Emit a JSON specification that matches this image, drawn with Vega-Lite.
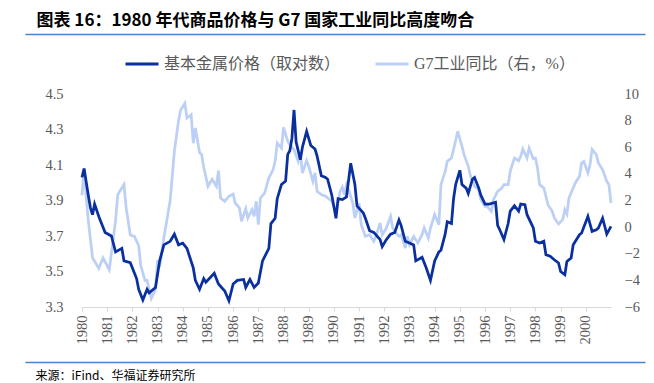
{
  "$schema": "https://vega.github.io/schema/vega-lite/v6.json",
  "width": 529,
  "height": 213,
  "autosize": {"type": "none"},
  "padding": {"left": 82, "top": 94, "right": 43, "bottom": 76},
  "background": "white",
  "config": {
    "view": {"stroke": null},
    "axis": {"grid": false},
    "legend": {
      "title": null, "orient": "none", "legendX": 42, "legendY": -48, "direction": "horizontal",
      "symbolType": "stroke", "symbolSize": 1089, "symbolStrokeWidth": 3, "columnPadding": 28, "labelOffset": 4,
      "labelFont": "Liberation Serif, Noto Sans CJK SC", "labelFontSize": 16, "labelColor": "#595959", "labelLimit": 0, "padding": 0
    }
  },
  "datasets": {
    "metals": [
      {"year": 1980, "value": 4.03}, {"year": 1980.083, "value": 4.08}, {"year": 1980.25, "value": 3.93}, {"year": 1980.333, "value": 3.86},
      {"year": 1980.417, "value": 3.82}, {"year": 1980.5, "value": 3.88}, {"year": 1980.667, "value": 3.81}, {"year": 1980.917, "value": 3.72},
      {"year": 1981.167, "value": 3.70}, {"year": 1981.333, "value": 3.61}, {"year": 1981.583, "value": 3.63}, {"year": 1981.667, "value": 3.56},
      {"year": 1981.917, "value": 3.55}, {"year": 1982.167, "value": 3.46}, {"year": 1982.25, "value": 3.40}, {"year": 1982.417, "value": 3.34},
      {"year": 1982.583, "value": 3.40}, {"year": 1982.667, "value": 3.38}, {"year": 1982.917, "value": 3.41}, {"year": 1983.083, "value": 3.56},
      {"year": 1983.25, "value": 3.65}, {"year": 1983.5, "value": 3.67}, {"year": 1983.667, "value": 3.71}, {"year": 1983.833, "value": 3.65},
      {"year": 1984, "value": 3.66}, {"year": 1984.167, "value": 3.63}, {"year": 1984.417, "value": 3.52}, {"year": 1984.5, "value": 3.45},
      {"year": 1984.667, "value": 3.40}, {"year": 1984.833, "value": 3.46}, {"year": 1984.917, "value": 3.44}, {"year": 1985.25, "value": 3.49},
      {"year": 1985.417, "value": 3.43}, {"year": 1985.667, "value": 3.39}, {"year": 1985.833, "value": 3.335}, {"year": 1986, "value": 3.43},
      {"year": 1986.167, "value": 3.45}, {"year": 1986.417, "value": 3.455}, {"year": 1986.5, "value": 3.41}, {"year": 1986.667, "value": 3.455},
      {"year": 1986.833, "value": 3.41}, {"year": 1987, "value": 3.435}, {"year": 1987.167, "value": 3.56}, {"year": 1987.417, "value": 3.63},
      {"year": 1987.5, "value": 3.77}, {"year": 1987.667, "value": 3.80}, {"year": 1987.75, "value": 3.91}, {"year": 1987.917, "value": 3.99},
      {"year": 1988.083, "value": 4.01}, {"year": 1988.167, "value": 4.16}, {"year": 1988.25, "value": 4.18}, {"year": 1988.333, "value": 4.25},
      {"year": 1988.417, "value": 4.41}, {"year": 1988.5, "value": 4.23}, {"year": 1988.667, "value": 4.13}, {"year": 1988.75, "value": 4.20},
      {"year": 1988.917, "value": 4.29}, {"year": 1989.083, "value": 4.21}, {"year": 1989.25, "value": 4.19}, {"year": 1989.333, "value": 4.15},
      {"year": 1989.5, "value": 4.04}, {"year": 1989.667, "value": 4.03}, {"year": 1989.75, "value": 4.02}, {"year": 1989.917, "value": 3.93},
      {"year": 1990.083, "value": 3.80}, {"year": 1990.167, "value": 3.91}, {"year": 1990.333, "value": 3.905}, {"year": 1990.5, "value": 3.92},
      {"year": 1990.667, "value": 4.11}, {"year": 1990.833, "value": 3.99}, {"year": 1990.917, "value": 3.87}, {"year": 1991.167, "value": 3.83},
      {"year": 1991.25, "value": 3.80}, {"year": 1991.417, "value": 3.73}, {"year": 1991.583, "value": 3.72}, {"year": 1991.833, "value": 3.68},
      {"year": 1991.917, "value": 3.64}, {"year": 1992.083, "value": 3.68}, {"year": 1992.25, "value": 3.71}, {"year": 1992.417, "value": 3.72},
      {"year": 1992.583, "value": 3.79}, {"year": 1992.667, "value": 3.76}, {"year": 1992.833, "value": 3.67}, {"year": 1993, "value": 3.66},
      {"year": 1993.167, "value": 3.65}, {"year": 1993.25, "value": 3.56}, {"year": 1993.5, "value": 3.58}, {"year": 1993.667, "value": 3.52},
      {"year": 1993.833, "value": 3.45}, {"year": 1994, "value": 3.56}, {"year": 1994.167, "value": 3.61}, {"year": 1994.25, "value": 3.62},
      {"year": 1994.417, "value": 3.71}, {"year": 1994.5, "value": 3.78}, {"year": 1994.667, "value": 3.77}, {"year": 1994.75, "value": 3.91},
      {"year": 1994.833, "value": 3.99}, {"year": 1995, "value": 4.07}, {"year": 1995.083, "value": 3.99}, {"year": 1995.25, "value": 3.97},
      {"year": 1995.333, "value": 3.94}, {"year": 1995.5, "value": 4.02}, {"year": 1995.583, "value": 4.03}, {"year": 1995.75, "value": 3.97},
      {"year": 1995.833, "value": 3.93}, {"year": 1996, "value": 3.88}, {"year": 1996.167, "value": 3.88}, {"year": 1996.417, "value": 3.89},
      {"year": 1996.5, "value": 3.76}, {"year": 1996.583, "value": 3.735}, {"year": 1996.75, "value": 3.68}, {"year": 1996.917, "value": 3.77},
      {"year": 1997, "value": 3.84}, {"year": 1997.167, "value": 3.87}, {"year": 1997.333, "value": 3.84}, {"year": 1997.417, "value": 3.88},
      {"year": 1997.583, "value": 3.876}, {"year": 1997.667, "value": 3.82}, {"year": 1997.917, "value": 3.745}, {"year": 1998, "value": 3.67},
      {"year": 1998.167, "value": 3.66}, {"year": 1998.333, "value": 3.67}, {"year": 1998.417, "value": 3.595}, {"year": 1998.583, "value": 3.586},
      {"year": 1998.75, "value": 3.566}, {"year": 1998.917, "value": 3.548}, {"year": 1999, "value": 3.50}, {"year": 1999.167, "value": 3.482},
      {"year": 1999.25, "value": 3.557}, {"year": 1999.417, "value": 3.576}, {"year": 1999.5, "value": 3.651}, {"year": 1999.75, "value": 3.707},
      {"year": 1999.833, "value": 3.717}, {"year": 2000.083, "value": 3.81}, {"year": 2000.25, "value": 3.726}, {"year": 2000.417, "value": 3.735},
      {"year": 2000.5, "value": 3.745}, {"year": 2000.667, "value": 3.80}, {"year": 2000.833, "value": 3.711}, {"year": 2001, "value": 3.754}
    ],
    "g7": [
      {"year": 1980, "value": 2.4}, {"year": 1980.083, "value": 4.4}, {"year": 1980.167, "value": 2.2}, {"year": 1980.25, "value": 0.5},
      {"year": 1980.417, "value": -2.3}, {"year": 1980.667, "value": -3.1}, {"year": 1980.833, "value": -2.3}, {"year": 1981.083, "value": -3.2},
      {"year": 1981.333, "value": 0.5}, {"year": 1981.417, "value": 2.4}, {"year": 1981.5, "value": 2.7}, {"year": 1981.667, "value": 3.2},
      {"year": 1981.75, "value": 1.5}, {"year": 1981.917, "value": -0.6}, {"year": 1982.083, "value": -0.7}, {"year": 1982.25, "value": -1.4},
      {"year": 1982.333, "value": -2.9}, {"year": 1982.5, "value": -4.0}, {"year": 1982.583, "value": -4.0}, {"year": 1982.75, "value": -5.35},
      {"year": 1982.917, "value": -4.7}, {"year": 1983, "value": -2.5}, {"year": 1983.083, "value": -3.0}, {"year": 1983.25, "value": -0.8},
      {"year": 1983.5, "value": 2.0}, {"year": 1983.667, "value": 5.7}, {"year": 1983.833, "value": 8.0}, {"year": 1983.917, "value": 8.8},
      {"year": 1984.083, "value": 9.3}, {"year": 1984.167, "value": 8.2}, {"year": 1984.333, "value": 8.45}, {"year": 1984.417, "value": 6.3},
      {"year": 1984.5, "value": 7.45}, {"year": 1984.667, "value": 5.6}, {"year": 1984.75, "value": 5.45}, {"year": 1984.833, "value": 4.5},
      {"year": 1985, "value": 3.07}, {"year": 1985.167, "value": 3.6}, {"year": 1985.333, "value": 3.07}, {"year": 1985.417, "value": 4.24},
      {"year": 1985.5, "value": 2.19}, {"year": 1985.667, "value": 1.94}, {"year": 1985.833, "value": 2.32}, {"year": 1986, "value": 2.49},
      {"year": 1986.083, "value": 1.81}, {"year": 1986.25, "value": 1.44}, {"year": 1986.333, "value": 0.44}, {"year": 1986.5, "value": 1.38},
      {"year": 1986.583, "value": 0.69}, {"year": 1986.75, "value": 1.31}, {"year": 1986.833, "value": 0.81}, {"year": 1986.917, "value": 1.94},
      {"year": 1987, "value": 0.18}, {"year": 1987.083, "value": 2.19}, {"year": 1987.25, "value": 2.56}, {"year": 1987.417, "value": 3.69},
      {"year": 1987.583, "value": 4.31}, {"year": 1987.667, "value": 4.94}, {"year": 1987.75, "value": 6.32}, {"year": 1987.917, "value": 5.94},
      {"year": 1988, "value": 7.5}, {"year": 1988.167, "value": 6.45}, {"year": 1988.25, "value": 6.19}, {"year": 1988.417, "value": 5.82},
      {"year": 1988.583, "value": 4.94}, {"year": 1988.667, "value": 5.57}, {"year": 1988.75, "value": 4.07}, {"year": 1988.917, "value": 4.99},
      {"year": 1989, "value": 4.57}, {"year": 1989.167, "value": 3.44}, {"year": 1989.25, "value": 4.07}, {"year": 1989.333, "value": 2.69},
      {"year": 1989.5, "value": 2.44}, {"year": 1989.667, "value": 2.32}, {"year": 1989.917, "value": 1.94}, {"year": 1990.083, "value": 1.19},
      {"year": 1990.167, "value": 1.94}, {"year": 1990.25, "value": 2.69}, {"year": 1990.333, "value": 3.0}, {"year": 1990.417, "value": 2.44},
      {"year": 1990.5, "value": 3.19}, {"year": 1990.583, "value": 2.81}, {"year": 1990.75, "value": 1.81}, {"year": 1990.833, "value": 0.69},
      {"year": 1991, "value": 1.81}, {"year": 1991.083, "value": 0.18}, {"year": 1991.25, "value": -0.69}, {"year": 1991.417, "value": -0.57},
      {"year": 1991.583, "value": -1.06}, {"year": 1991.667, "value": -0.7}, {"year": 1991.833, "value": 0.31}, {"year": 1991.917, "value": -0.57},
      {"year": 1992.083, "value": -0.07}, {"year": 1992.25, "value": 0.81}, {"year": 1992.333, "value": -0.07}, {"year": 1992.417, "value": -0.31},
      {"year": 1992.583, "value": -0.69}, {"year": 1992.667, "value": -0.57}, {"year": 1992.833, "value": -1.57}, {"year": 1992.917, "value": -0.69},
      {"year": 1993, "value": -1.32}, {"year": 1993.167, "value": -0.69}, {"year": 1993.333, "value": -1.19}, {"year": 1993.5, "value": -0.57},
      {"year": 1993.583, "value": -0.07}, {"year": 1993.75, "value": -0.82}, {"year": 1993.833, "value": -0.07}, {"year": 1994, "value": 0.94},
      {"year": 1994.167, "value": 0.18}, {"year": 1994.25, "value": 3.19}, {"year": 1994.417, "value": 4.19}, {"year": 1994.5, "value": 4.94},
      {"year": 1994.667, "value": 5.19}, {"year": 1994.75, "value": 5.82}, {"year": 1994.917, "value": 7.2}, {"year": 1995.083, "value": 6.07},
      {"year": 1995.167, "value": 5.44}, {"year": 1995.333, "value": 4.57}, {"year": 1995.417, "value": 3.88}, {"year": 1995.583, "value": 3.07},
      {"year": 1995.75, "value": 2.81}, {"year": 1995.833, "value": 2.06}, {"year": 1996, "value": 1.56}, {"year": 1996.083, "value": 1.56},
      {"year": 1996.25, "value": 1.19}, {"year": 1996.333, "value": 2.06}, {"year": 1996.5, "value": 2.69}, {"year": 1996.667, "value": 2.94},
      {"year": 1996.75, "value": 3.19}, {"year": 1996.917, "value": 3.19}, {"year": 1997, "value": 4.19}, {"year": 1997.083, "value": 4.69},
      {"year": 1997.167, "value": 5.19}, {"year": 1997.333, "value": 4.99}, {"year": 1997.417, "value": 5.32}, {"year": 1997.5, "value": 5.87},
      {"year": 1997.667, "value": 5.19}, {"year": 1997.75, "value": 5.94}, {"year": 1997.917, "value": 5.14}, {"year": 1998, "value": 5.19},
      {"year": 1998.083, "value": 4.44}, {"year": 1998.167, "value": 3.19}, {"year": 1998.333, "value": 2.94}, {"year": 1998.5, "value": 1.69},
      {"year": 1998.667, "value": 1.19}, {"year": 1998.75, "value": 0.69}, {"year": 1998.917, "value": 0.24}, {"year": 1999.083, "value": 0.56},
      {"year": 1999.167, "value": 1.31}, {"year": 1999.25, "value": 0.99}, {"year": 1999.333, "value": 2.19}, {"year": 1999.5, "value": 2.94},
      {"year": 1999.583, "value": 3.32}, {"year": 1999.75, "value": 3.82}, {"year": 1999.833, "value": 4.82}, {"year": 1999.917, "value": 4.94},
      {"year": 2000.083, "value": 4.07}, {"year": 2000.167, "value": 4.69}, {"year": 2000.25, "value": 5.82}, {"year": 2000.417, "value": 5.44},
      {"year": 2000.5, "value": 4.82}, {"year": 2000.667, "value": 4.31}, {"year": 2000.833, "value": 3.44}, {"year": 2000.917, "value": 3.19},
      {"year": 2001, "value": 1.81}
    ],
    "frame": []
  },
  "layer": [
    {
      "data": {"name": "g7"},
      "mark": {"type": "line", "strokeWidth": 2.75},
      "encoding": {
        "x": {"field": "year", "type": "quantitative", "scale": {"domain": [1980, 2001], "nice": false, "zero": false}, "axis": null},
        "y": {
          "field": "value", "type": "quantitative",
          "scale": {"domain": [-6, 10], "nice": false, "zero": false},
          "axis": {
            "orient": "right", "values": [-6, -4, -2, 0, 2, 4, 6, 8, 10], "format": "d",
            "ticks": false, "domain": false, "grid": false, "labelPadding": 13,
            "labelFont": "Liberation Serif", "labelFontSize": 14.5, "labelColor": "#595959", "title": null
          }
        },
        "color": {"datum": "G7工业同比（右，%）", "type": "nominal", "legend": {"labelFontSize": 16}}
      }
    },
    {
      "data": {"name": "metals"},
      "mark": {"type": "line", "strokeWidth": 2.75},
      "encoding": {
        "x": {
          "field": "year", "type": "quantitative",
          "scale": {"domain": [1980, 2001], "nice": false, "zero": false},
          "axis": {
            "orient": "bottom", "values": [1980, 1981, 1982, 1983, 1984, 1985, 1986, 1987, 1988, 1989, 1990, 1991, 1992, 1993, 1994, 1995, 1996, 1997, 1998, 1999, 2000],
            "format": "d", "labelAngle": 270, "labelFont": "Liberation Serif", "labelFontSize": 14.5, "labelColor": "#595959",
            "labelPadding": 4, "labelOverlap": false, "tickSize": 4, "tickColor": "#d9d9d9", "domainColor": "#d9d9d9",
            "grid": false, "title": null
          }
        },
        "y": {
          "field": "value", "type": "quantitative",
          "scale": {"domain": [3.3, 4.5], "nice": false, "zero": false},
          "axis": {
            "orient": "left", "values": [3.3, 3.5, 3.7, 3.9, 4.1, 4.3, 4.5], "format": ".1f",
            "ticks": false, "domain": false, "grid": false, "labelPadding": 19,
            "labelFont": "Liberation Serif", "labelFontSize": 14.5, "labelColor": "#595959", "title": null
          }
        },
        "color": {
          "datum": "基本金属价格（取对数）", "type": "nominal",
          "scale": {"domain": ["基本金属价格（取对数）", "G7工业同比（右，%）"], "range": ["#0a2f9f", "#bcd0f5"]},
          "legend": {"labelFontSize": 16}
        }
      }
    },
    {
      "data": {"name": "frame"},
      "mark": "rule",
      "encoding": {
        "x": {
          "field": "year", "type": "quantitative",
          "scale": {"domain": [0, 1], "range": [-57, 563], "nice": false, "zero": false},
          "axis": {
            "orient": "top", "offset": 60, "domainColor": "#4f81c7", "domainWidth": 1.5, "ticks": false, "labels": false, "grid": false,
            "title": "图表 16：1980 年代商品价格与 G7 国家工业同比高度吻合",
            "titleFont": "Noto Sans CJK SC", "titleFontSize": 17, "titleFontWeight": "bold", "titleColor": "#000000",
            "titleAlign": "left", "titleAngle": 0, "titleBaseline": "alphabetic", "titleX": -46, "titleY": -9
          }
        }
      }
    },
    {
      "data": {"name": "frame"},
      "mark": "rule",
      "encoding": {
        "x": {
          "field": "year", "type": "quantitative",
          "scale": {"domain": [0, 1], "range": [-57, 563], "nice": false, "zero": false},
          "axis": {
            "orient": "bottom", "offset": 55, "domainColor": "#4f81c7", "domainWidth": 1.5, "ticks": false, "labels": false, "grid": false,
            "title": "来源：iFind、华福证券研究所",
            "titleFont": "Noto Sans CJK SC", "titleFontSize": 12, "titleFontWeight": "normal", "titleColor": "#000000",
            "titleAlign": "left", "titleAngle": 0, "titleBaseline": "alphabetic", "titleX": -47, "titleY": 17
          }
        }
      }
    }
  ],
  "resolve": {
    "scale": {"x": "independent", "y": "independent"},
    "axis": {"x": "independent", "y": "independent"}
  }
}
